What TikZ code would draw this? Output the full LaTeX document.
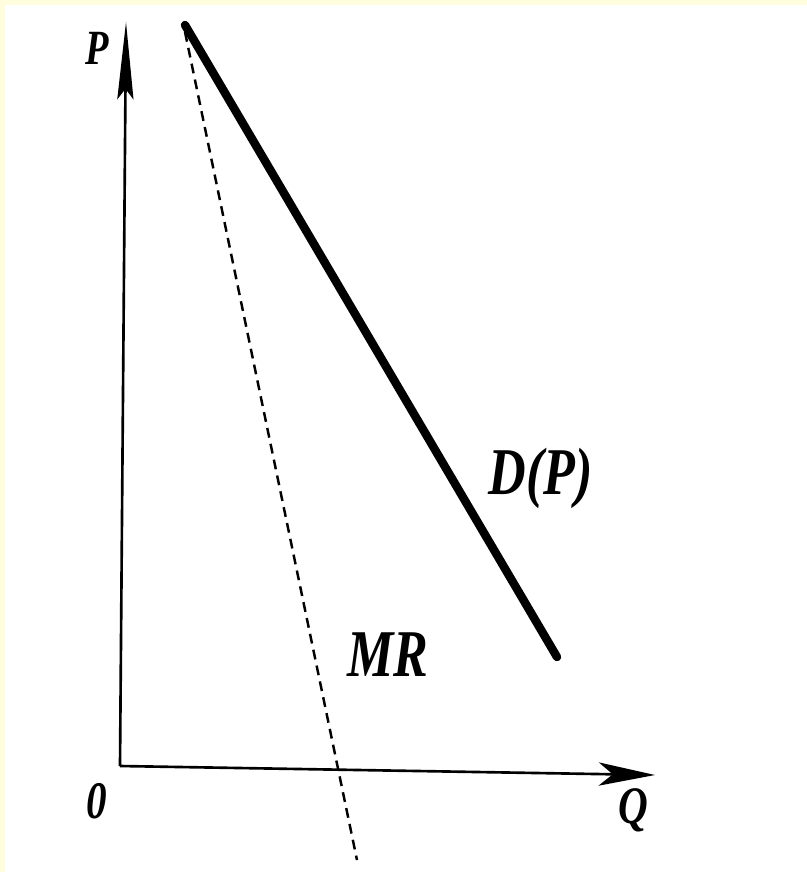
\documentclass[tikz,border=0pt]{standalone}
\usepackage{fontspec}
\setmainfont{Liberation Serif}
\newfontfamily\lblfont[FakeStretch=0.78]{Liberation Serif}
\usepackage{xcolor}
\usepackage{tikz}
\usetikzlibrary{arrows.meta}

\definecolor{cream}{HTML}{FFFDDC}

\tikzset{
  axis/.style={line width=0.75pt},
  vtip/.style={-{Stealth[length=22pt,width=4.6pt,inset=3pt]}},
  htip/.style={-{Stealth[length=16pt,width=6.6pt,inset=4pt]}},
  demand/.style={line width=2.4pt,line cap=round},
  mrline/.style={line width=0.7pt,dash pattern=on 2.8pt off 1.8pt},
  lbl/.style={inner sep=0pt,font=\lblfont\bfseries\itshape}
}

\begin{document}
\begin{tikzpicture}[x=0.01cm,y=-0.01cm]
  % page and scan edge
  \fill[cream] (0,0) rectangle (807,872);
  \fill[white] (5,5) rectangle (807,872);
  \useasboundingbox (0,0) rectangle (807,872);

  \coordinate (O) at (120,766);
  \coordinate (Ptip) at (126,22);
  \coordinate (Qtip) at (655,775);
  \coordinate (Dtop) at (185,25);
  \coordinate (Dbot) at (557,657);
  \coordinate (MRtop) at (185,32);
  \coordinate (MRbot) at (357,860);

  \draw[axis,vtip] (O) -- (Ptip);
  \draw[axis,htip] (O) -- (Qtip);
  \draw[demand] (Dtop) -- (Dbot);
  \draw[mrline] (MRtop) -- (MRbot);

  \node[lbl,font=\lblfont\bfseries\itshape\fontsize{14}{14}\selectfont] (plbl) at (97,48) {P};
  \node[lbl,font=\lblfont\bfseries\itshape\fontsize{15}{15}\selectfont] (zero) at (97,801) {0};
  \node[lbl,font=\lblfont\bfseries\itshape\fontsize{15}{15}\selectfont] (qlbl) at (633,810) {Q};
  \node[lbl,font=\lblfont\bfseries\itshape\fontsize{19}{19}\selectfont] (dlbl) at (541,478) {D(P)};
  \node[lbl,font=\lblfont\bfseries\itshape\fontsize{19}{19}\selectfont] (mrlbl) at (388,655) {MR};
\end{tikzpicture}
\end{document}
